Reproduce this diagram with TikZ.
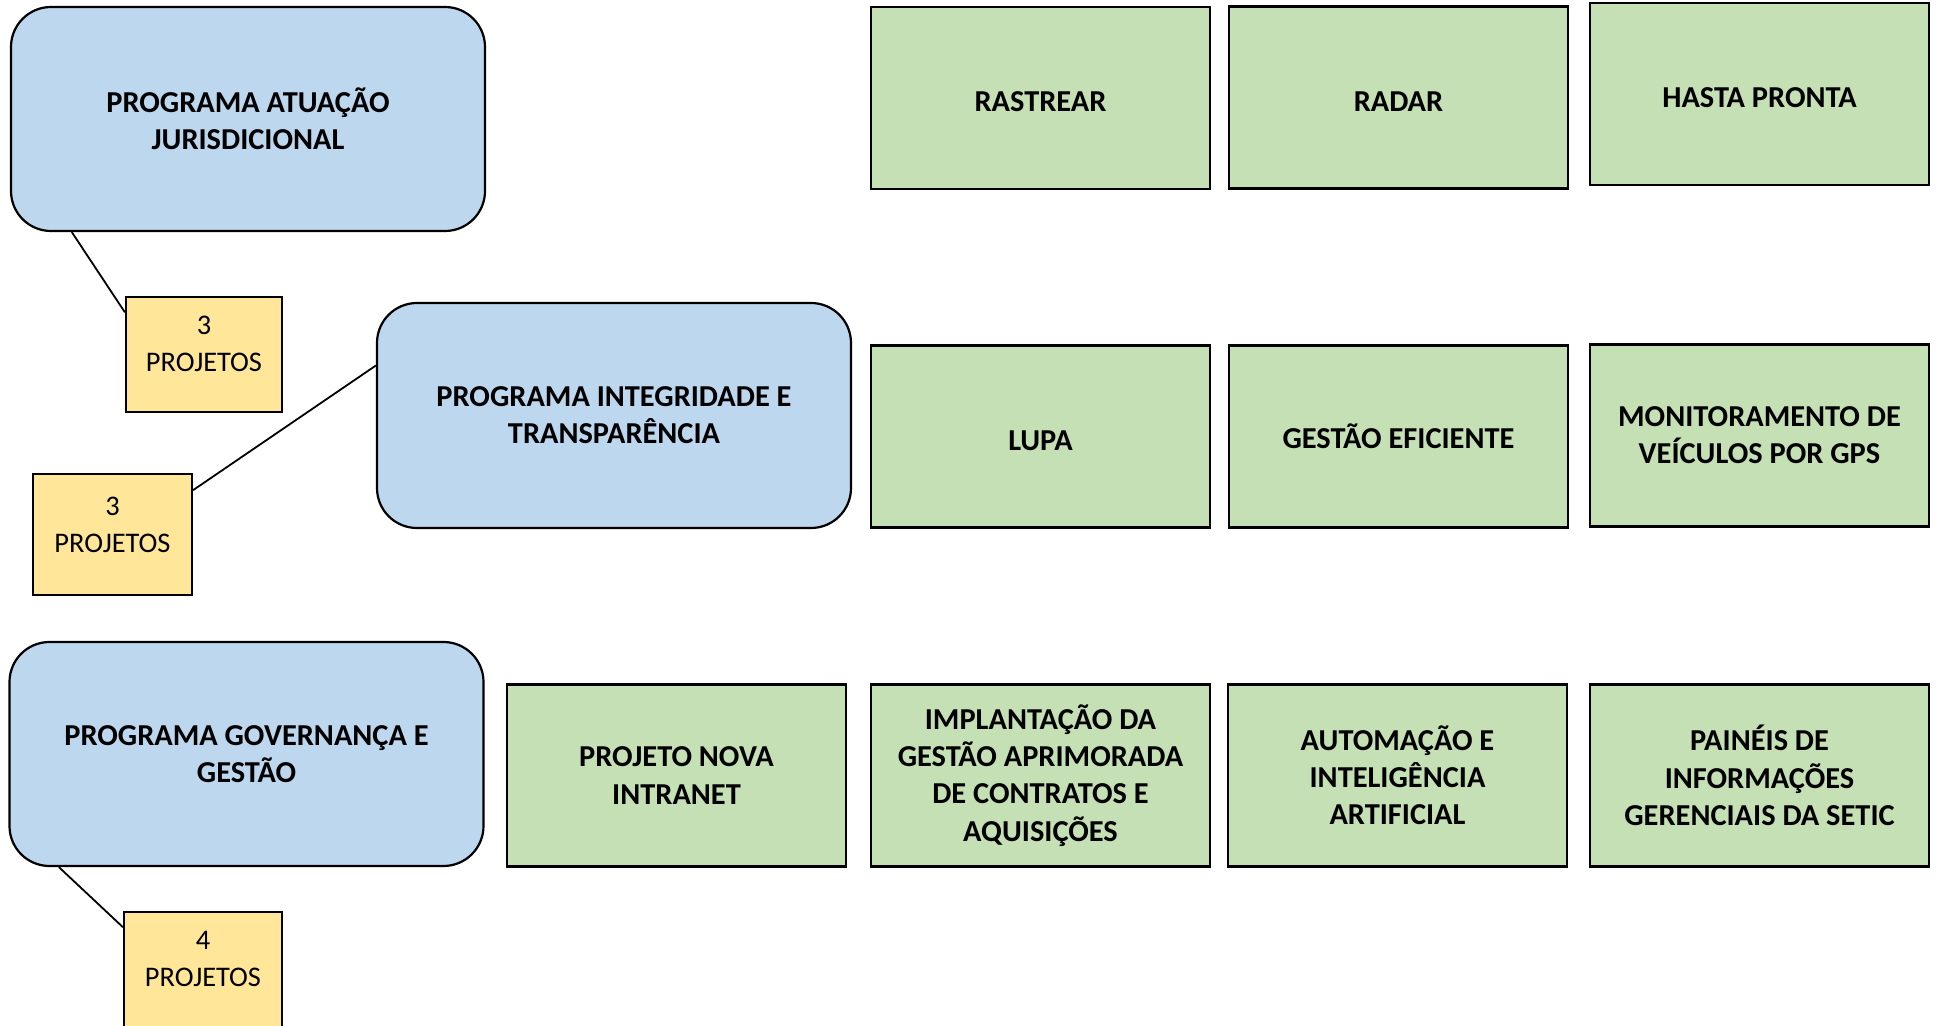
\documentclass[tikz,border=0pt]{standalone}
\usepackage{fontspec}
\setmainfont{Carlito}
\usetikzlibrary{calc}
\definecolor{progblue}{HTML}{BDD7EE}
\definecolor{projgreen}{HTML}{C5E0B4}
\definecolor{countyellow}{HTML}{FFE699}
\begin{document}
\begin{tikzpicture}[x=0.5pt,y=-0.5pt,
  prog/.style={draw=black, line width=1.1pt, fill=progblue, rounded corners=20pt,
    minimum width=237pt, minimum height=112pt, inner sep=0pt, align=center,
    font=\bfseries\fontsize{15.2}{18.6}\selectfont},
  proj/.style={draw=black, line width=1.1pt, fill=projgreen,
    minimum width=169.5pt, minimum height=91pt, inner sep=0pt, align=center,
    font=\bfseries\fontsize{15.2}{18.6}\selectfont},
  oneline/.style={text height=14pt, text depth=0pt},
  count/.style={draw=black, line width=1.1pt, fill=countyellow, inner sep=0pt},
  countlabel/.style={align=center, inner sep=0pt, font=\fontsize{14.2}{18.5}\selectfont},
  link/.style={draw=black, line width=0.9pt}]
\useasboundingbox (0,0) rectangle (1940,1026);
\clip (0,0) rectangle (1940,1026);

% programs
\node[prog] (b1) at (248,119) {PROGRAMA ATUAÇÃO\\JURISDICIONAL};
\node[prog, minimum height=112.5pt] (b2) at (614,415.5) {PROGRAMA INTEGRIDADE E\\TRANSPARÊNCIA};
\node[prog] (b3) at (246.5,754) {PROGRAMA GOVERNANÇA E\\GESTÃO};

% counts
\node[count, minimum width=78pt, minimum height=57.5pt] (y1) at (204,354.5) {};
\node[count, minimum width=79.5pt, minimum height=60.5pt] (y2) at (112.5,534.5) {};
\node[count, minimum width=79pt, minimum height=60pt] (y3) at (203,972) {};
\node[countlabel] (y1t) at ($(y1.center)+(0,-11)$) {3\\PROJETOS};
\node[countlabel] (y2t) at ($(y2.center)+(0,-10)$) {3\\PROJETOS};
\node[countlabel] (y3t) at ($(y3.center)+(0,-13)$) {4\\PROJETOS};

% projects
\node[proj, oneline] (p1) at (1040.5,98) {RASTREAR};
\node[proj, oneline] (p2) at (1398.5,97.5) {RADAR};
\node[proj, oneline] (p3) at (1759.5,94) {HASTA PRONTA};
\node[proj, oneline] (p4) at (1040.5,436.5) {LUPA};
\node[proj] (p5) at (1398.5,436.5) {GESTÃO EFICIENTE};
\node[proj] (p6) at (1759.5,435.5) {MONITORAMENTO DE\\VEÍCULOS POR GPS};
\node[proj] (p7) at (676.5,775.5) {PROJETO NOVA\\INTRANET};
\node[proj] (p8) at (1040.5,775.5) {IMPLANTAÇÃO DA\\GESTÃO APRIMORADA\\DE CONTRATOS E\\AQUISIÇÕES};
\node[proj] (p9) at (1397.5,775.5) {AUTOMAÇÃO E\\INTELIGÊNCIA\\ARTIFICIAL};
\node[proj] (p10) at (1759.5,775.5) {PAINÉIS DE\\INFORMAÇÕES\\GERENCIAIS DA SETIC};

% connectors
\draw[link] ($(b1.south west)!0.13!(b1.south east)$) -- ($(y1.north west)!0.14!(y1.south west)$);
\draw[link] ($(y2.north east)!0.14!(y2.south east)$) -- ($(b2.north west)!0.28!(b2.south west)$);
\draw[link] ($(b3.south west)!0.106!(b3.south east)$) -- ($(y3.north west)!0.133!(y3.south west)$);
\end{tikzpicture}
\end{document}
